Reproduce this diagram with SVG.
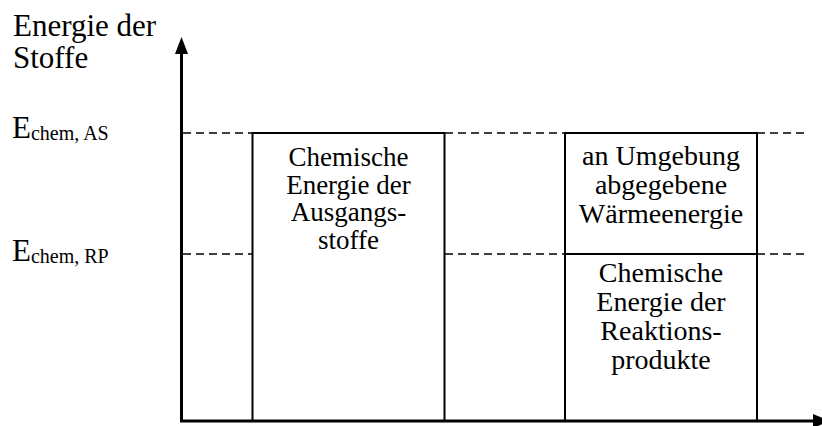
<svg xmlns="http://www.w3.org/2000/svg" width="822" height="426" viewBox="0 0 822 426">
<style>
text{font-family:"Liberation Serif","Times New Roman",serif;fill:#000}
.lbl{font-size:31px}
.sub{font-size:20px}
.bx{font-size:28px;text-anchor:middle}
.bx1{font-size:27px}
.dash{stroke:#000;stroke-width:1.5;stroke-dasharray:8 5;fill:none}
.box{stroke:#000;stroke-width:2;fill:#fff}
.axis{stroke:#000;stroke-width:3;fill:none}
</style>
<rect width="822" height="426" fill="#fff"/>
<g id="connectors">
<line class="dash" x1="183" y1="133" x2="252" y2="133"/>
<line class="dash" x1="445" y1="133" x2="565" y2="133"/>
<line class="dash" x1="757" y1="133" x2="808" y2="133"/>
<line class="dash" x1="183" y1="254" x2="252" y2="254"/>
<line class="dash" x1="445" y1="254" x2="565" y2="254"/>
<line class="dash" x1="757" y1="254" x2="808" y2="254"/>
</g>
<g id="box-ausgangsstoffe">
<rect class="box" x="252.5" y="133" width="192" height="288"/>
<text class="bx bx1" x="348.5" y="166">Chemische</text>
<text class="bx bx1" x="348.5" y="193.5">Energie der</text>
<text class="bx bx1" x="348.5" y="220.5">Ausgangs-</text>
<text class="bx bx1" x="348.5" y="249">stoffe</text>
</g>
<g id="box-waerme">
<rect class="box" x="565" y="133" width="192" height="121"/>
<text class="bx" x="661" y="165">an Umgebung</text>
<text class="bx" x="661" y="194">abgegebene</text>
<text class="bx" x="661" y="223">Wärmeenergie</text>
</g>
<g id="box-reaktionsprodukte">
<rect class="box" x="565" y="254" width="192" height="167"/>
<text class="bx" x="661" y="282">Chemische</text>
<text class="bx" x="661" y="311">Energie der</text>
<text class="bx" x="661" y="340">Reaktions-</text>
<text class="bx" x="661" y="369">produkte</text>
</g>
<g id="axes">
<line class="axis" x1="181.5" y1="50" x2="181.5" y2="421"/>
<polygon points="181.5,37 175,54 188,54" fill="#000"/>
<line class="axis" x1="180" y1="421" x2="816" y2="421"/>
<polygon points="813,414 813,428 830,421" fill="#000"/>
</g>
<g id="labels">
<text class="lbl" x="13" y="36">Energie der</text>
<text class="lbl" x="13" y="68">Stoffe</text>
<text class="lbl" x="12" y="138">E<tspan class="sub" dy="2">chem, AS</tspan></text>
<text class="lbl" x="12" y="261">E<tspan class="sub" dy="2">chem, RP</tspan></text>
</g>
</svg>
